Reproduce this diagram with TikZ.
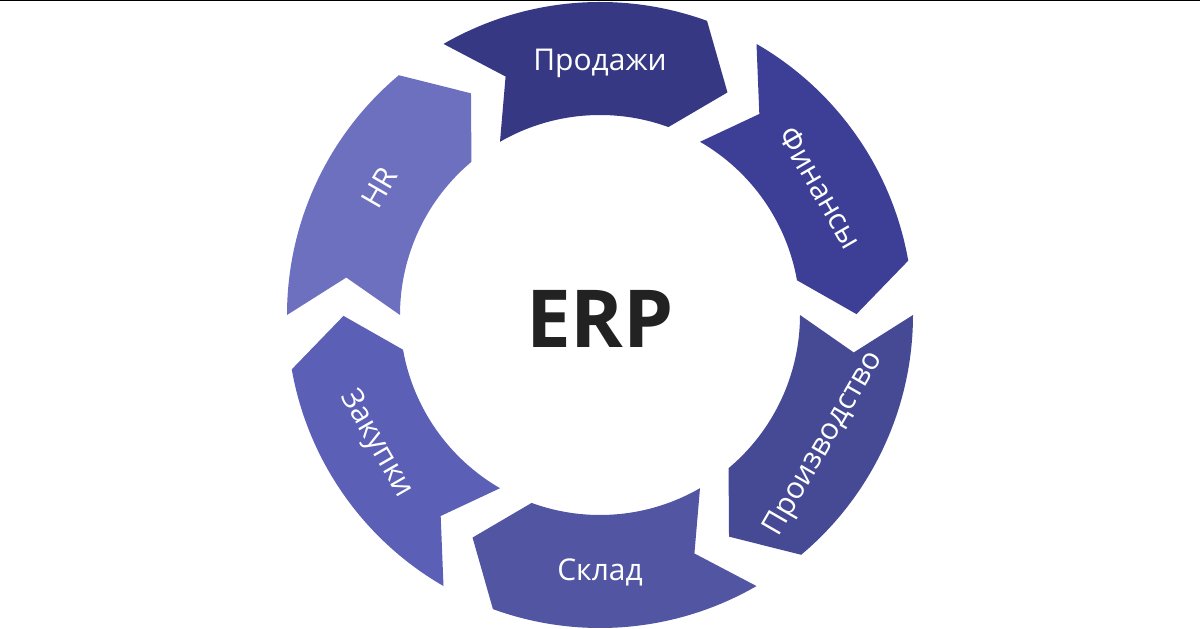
\documentclass[tikz,border=0pt]{standalone}
\usepackage{fontspec}
\setmainfont{Open Sans}
\usetikzlibrary{positioning}
\definecolor{cSales}{HTML}{363884}
\definecolor{cFinance}{HTML}{3D3F96}
\definecolor{cProd}{HTML}{464A95}
\definecolor{cStock}{HTML}{5255A2}
\definecolor{cBuy}{HTML}{5C5FB6}
\definecolor{cHR}{HTML}{6D70BF}
\definecolor{cCore}{HTML}{222222}
\tikzset{
  seg/.style={draw=none},
  lbl/.style={text=white, font=\fontsize{30}{35}\selectfont, inner sep=0pt,
              text height=21.5pt, text depth=0pt},
  core/.style={text=cCore, font=\fontsize{80}{90}\selectfont\bfseries, inner sep=0pt},
  rule/.style={line width=1.5pt, black},
}

\begin{document}
\begin{tikzpicture}[x=1pt,y=1pt]
    \useasboundingbox (0,0) rectangle (1200,629);
    \draw[rule] (0,628.3) -- (1200,628.3);

    \begin{scope}[shift={(600,314)}]
    \foreach \k/\col/\nm/\txt in {0/cSales/sales/Продажи, 1/cFinance/finance/Финансы,
        2/cProd/prod/Производство, 3/cStock/stock/Склад, 4/cBuy/buy/Закупки, 5/cHR/hr/HR} {
      \pgfmathsetmacro\ts{120-60*\k}
      \pgfmathsetmacro\te{70-60*\k}
      \pgfmathsetmacro\tm{90-60*\k}
      \pgfmathsetmacro\rot{ifthenelse(sin(\tm)>0, \tm-90, \tm+90)}
      \fill[seg, \col] (\ts:313) arc[start angle=\ts, end angle=\te, radius=313]
        -- (\te-9.8:256.5) -- (\te:200) arc[start angle=\te, end angle=\ts, radius=200]
        -- (\ts-8.4:256.5) -- cycle;
      \node[lbl, rotate=\rot] (\nm) at (\tm:255) {\txt};
    }
    \node[core] (erp) at (0,-4) {ERP};
    \end{scope}
\end{tikzpicture}
\end{document}
